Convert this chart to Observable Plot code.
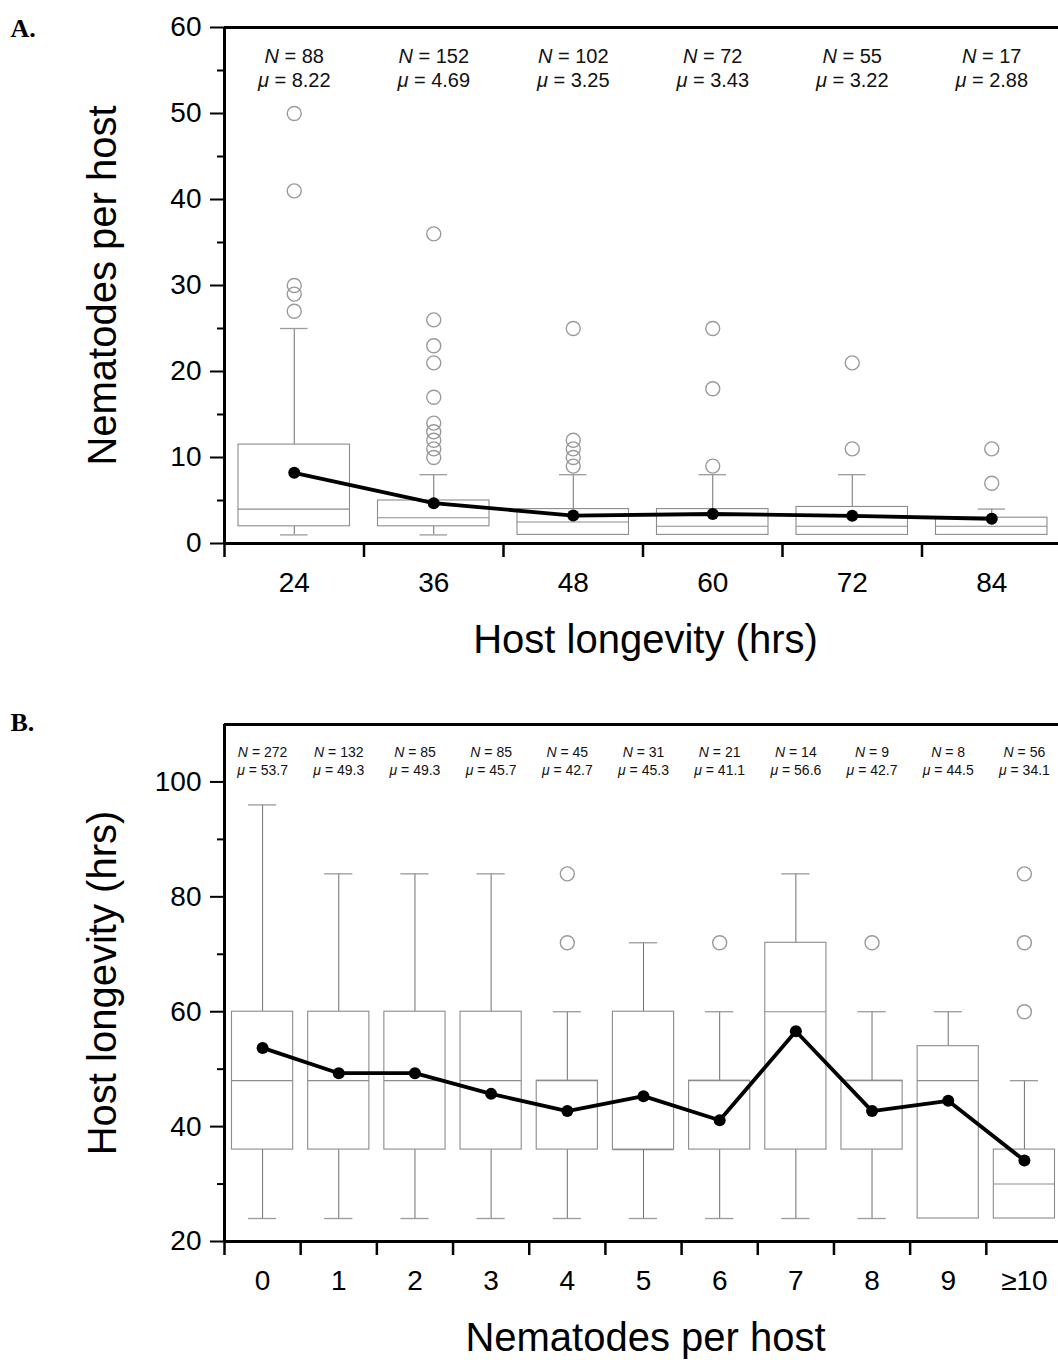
<!DOCTYPE html>
<html><head><meta charset="utf-8">
<script src="https://cdn.jsdelivr.net/npm/d3@7"></script>
<script src="https://cdn.jsdelivr.net/npm/@observablehq/plot@0.6"></script>
<style>
body{margin:0;background:#fff;}
#wrap{position:relative;width:1058px;height:1360px;overflow:hidden;background:#fff;}
#wrap svg{position:absolute;left:0;}
</style></head><body><div id="wrap"></div>
<script>
// ---------- Panel A data: nematodes per host by host longevity ----------
const catsA = ["24","36","48","60","72","84"];
const nA = [88,152,102,72,55,17];
const meanA = [8.22,4.69,3.25,3.43,3.22,2.88];
const q1A = [2,2,1,1,1,1];
const medA = [4,3,2.5,2,2,2];
const q3A = [11.5,5,4,4,4.25,3];
const loA = [1,1,1,1,1,1];
const hiA = [25,8,8,8,8,4];
const outA = [[27,29,30,41,50],[10,11,12,13,14,17,21,23,26,36],[9,10,11,12,25],[9,18,25],[11,21],[7,11]];
const yTicksA = [0,10,20,30,40,50,60];
const yMinorA = [5,15,25,35,45,55];

// ---------- Panel B data: host longevity by nematodes per host ----------
const catsB = ["0","1","2","3","4","5","6","7","8","9","≥10"];
const nB = [272,132,85,85,45,31,21,14,9,8,56];
const meanB = [53.7,49.3,49.3,45.7,42.7,45.3,41.1,56.6,42.7,44.5,34.1];
const q1B = [36,36,36,36,36,36,36,36,36,24,24];
const medB = [48,48,48,48,48,36,48,60,48,48,30];
const q3B = [60,60,60,60,48,60,48,72,48,54,36];
const loB = [24,24,24,24,24,24,24,24,24,24,24];
const hiB = [96,84,84,84,60,72,60,84,60,60,48];
const outB = [[],[],[],[],[72,84],[],[72],[],[72],[],[60,72,84]];
const yTicksB = [20,40,60,80,100];
const yMinorB = [30,50,70,90];

const FONT = "'Liberation Sans', Arial, Helvetica, sans-serif";

function panel(cfg) {
  const {cats, n, mean, q1, med, q3, lo, hi, out, yDomain, yTicks, yMinor, digits,
         xTitle, yTitle, letter, top, height, marginTop, marginBottom, rangeEnd,
         boxInset, capInset, annotSize, annotDy1, annotDy2, letterDy} = cfg;
  const rows = cats.map((c, i) => ({cat: c, n: n[i], mean: mean[i], q1: q1[i], med: med[i], q3: q3[i], lo: lo[i], hi: hi[i]}));
  const outs = cats.flatMap((c, i) => out[i].map(v => ({cat: c, v})));
  const left = 224;
  const bw = (rangeEnd - left) / cats.length;
  const boxStroke = "#8c8c8c";
  const svg = Plot.plot({
    width: 1058, height,
    marginLeft: left, marginRight: 0, marginTop, marginBottom,
    style: {fontFamily: FONT, background: "white", color: "black"},
    x: {type: "band", domain: cats, range: [left, rangeEnd], padding: 0, round: false, label: null},
    y: {domain: yDomain, label: null},
    marks: [
      Plot.ruleY([yDomain[1]], {stroke: "black", strokeWidth: 3}),
      // whiskers
      Plot.ruleX(rows.filter(d => d.hi > d.q3), {x: "cat", y1: "q3", y2: "hi", stroke: "#707070", strokeWidth: 1}),
      Plot.ruleX(rows.filter(d => d.lo < d.q1), {x: "cat", y1: "lo", y2: "q1", stroke: "#707070", strokeWidth: 1}),
      Plot.tickY(rows.filter(d => d.hi > d.q3), {x: "cat", y: "hi", insetLeft: capInset, insetRight: capInset, stroke: "#9a9a9a", strokeWidth: 1.3}),
      Plot.tickY(rows.filter(d => d.lo < d.q1), {x: "cat", y: "lo", insetLeft: capInset, insetRight: capInset, stroke: "#9a9a9a", strokeWidth: 1.3}),
      // boxes
      Plot.barY(rows, {x: "cat", y1: "q1", y2: "q3", fill: "white", stroke: boxStroke, strokeWidth: 1.1, insetLeft: boxInset, insetRight: boxInset}),
      Plot.tickY(rows, {x: "cat", y: "med", stroke: boxStroke, strokeWidth: 1.1, insetLeft: boxInset, insetRight: boxInset}),
      // outliers
      Plot.dot(outs, {x: "cat", y: "v", r: 7, stroke: "#9a9a9a", strokeWidth: 1.4, fill: "none"}),
      // means
      Plot.line(rows, {x: "cat", y: "mean", stroke: "black", strokeWidth: 3.8}),
      Plot.dot(rows, {x: "cat", y: "mean", r: 6, fill: "black"}),
      // axis lines
      Plot.ruleY([yDomain[0]], {stroke: "black", strokeWidth: 3}),
      Plot.ruleX([cats[0]], {x: d => d, y1: yDomain[0], y2: yDomain[1], dx: -bw / 2, stroke: "black", strokeWidth: 3}),
      Plot.axisY({ticks: yTicks, tickSize: 14, tickPadding: 9, fontSize: 28, strokeWidth: 2, label: null}),
      Plot.axisY({ticks: yMinor, tickSize: 7, tickFormat: () => "", strokeWidth: 2, label: null}),
      Plot.axisX({tickSize: 14, tickFormat: () => "", dx: -bw / 2, strokeWidth: 2.5, label: null}),
      Plot.axisX({tickSize: 0, tickPadding: 29, fontSize: 28, label: null}),
      // annotations
      Plot.text(rows, {x: "cat", text: d => `N = ${d.n}`, frameAnchor: "top", lineAnchor: "bottom", dy: annotDy1, fontSize: annotSize, fill: "#111"}),
      Plot.text(rows, {x: "cat", text: d => `μ = ${d.mean.toFixed(digits)}`, frameAnchor: "top", lineAnchor: "bottom", dy: annotDy2, fontSize: annotSize, fill: "#111"}),
      // titles
      Plot.text([xTitle], {text: d => d, frameAnchor: "bottom", lineAnchor: "bottom", dy: 109, dx: 4, fontSize: 40}),
      Plot.text([yTitle], {text: d => d, frameAnchor: "left", rotate: -90, lineAnchor: "middle", textAnchor: "middle", dx: -121, fontSize: 40}),
      Plot.text([letter], {text: d => d, frameAnchor: "top-left", textAnchor: "start", lineAnchor: "bottom", dx: -214, dy: letterDy, fontSize: 26, fontWeight: "bold", fontFamily: "'Liberation Serif', 'DejaVu Serif', serif"})
    ]
  });
  // italicise the leading N / μ symbol of the annotation rows
  svg.querySelectorAll("text").forEach(t => {
    if (t.children.length === 0 && /^(N|μ) = /.test(t.textContent)) {
      const s = t.textContent;
      t.textContent = "";
      const ts = document.createElementNS("http://www.w3.org/2000/svg", "tspan");
      ts.setAttribute("font-style", "italic");
      ts.textContent = s[0];
      t.appendChild(ts);
      t.appendChild(document.createTextNode(s.slice(1)));
    }
  });
  svg.style.top = top + "px";
  return svg;
}

const wrap = document.getElementById("wrap");
wrap.appendChild(panel({
  cats: catsA, n: nA, mean: meanA, q1: q1A, med: medA, q3: q3A, lo: loA, hi: hiA, out: outA,
  yDomain: [0, 60], yTicks: yTicksA, yMinor: yMinorA, digits: 2,
  xTitle: "Host longevity (hrs)", yTitle: "Nematodes per host", letter: "A.",
  top: 0, height: 680, marginTop: 27, marginBottom: 137, rangeEnd: 1061,
  boxInset: 14, capInset: 56, annotSize: 20, annotDy1: 35, annotDy2: 59, letterDy: 9
}));
wrap.appendChild(panel({
  cats: catsB, n: nB, mean: meanB, q1: q1B, med: medB, q3: q3B, lo: loB, hi: hiB, out: outB,
  yDomain: [20, 110], yTicks: yTicksB, yMinor: yMinorB, digits: 1,
  xTitle: "Nematodes per host", yTitle: "Host longevity (hrs)", letter: "B.",
  top: 680, height: 680, marginTop: 44, marginBottom: 119, rangeEnd: 1062,
  boxInset: 7.5, capInset: 24, annotSize: 14, annotDy1: 32, annotDy2: 50, letterDy: 6
}));
</script>
</body></html>
